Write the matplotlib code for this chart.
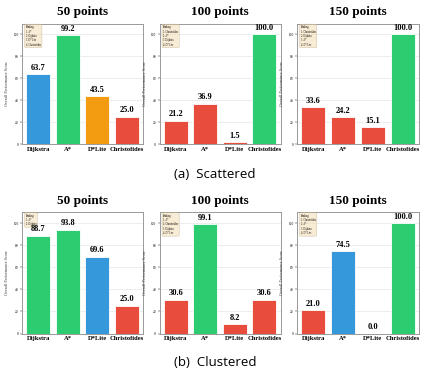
import matplotlib.pyplot as plt

algorithms = ['Dijkstra', 'A*', 'D*Lite', 'Christofides']
titles = ['50 points', '100 points', '150 points']

# scores
scattered_scores = [
    [63.7, 99.2, 43.5, 25.0],
    [21.2, 36.9, 1.5, 100.0],
    [33.6, 24.2, 15.1, 100.0],
]
clustered_scores = [
    [88.7, 93.8, 69.6, 25.0],
    [30.6, 99.1, 8.2, 30.6],
    [21.0, 74.5, 0.0, 100.0],
]

green, blue, orange, red = '#2ecc71', '#3498db', '#f39c12', '#e74c3c'
scattered_colors = [
    [blue, green, orange, red],
    [red, red, red, green],
    [red, red, red, green],
]
clustered_colors = [
    [green, green, blue, red],
    [red, green, red, red],
    [red, blue, red, green],
]

scattered_ranking = [
    ['A*', 'Dijkstra', 'D* Lite', 'Christofides'],
    ['Christofides', 'A*', 'Dijkstra', 'D* Lite'],
    ['Christofides', 'Dijkstra', 'A*', 'D* Lite'],
]
clustered_ranking = [
    ['A*', 'Dijkstra'],
    ['A*', 'Christofides', 'Dijkstra', 'D* Lite'],
    ['Christofides', 'A*', 'Dijkstra', 'D* Lite'],
]

W, H = 434, 372
serif = ['Liberation Serif', 'DejaVu Serif']
fig = plt.figure(figsize=(W / 100, H / 100), dpi=100)

# axes boxes in pixels: left, top, right, bottom
lefts = [22, 159.5, 297]
rights = [143, 280.5, 419]
rows = [(23.5, 144, scattered_scores, scattered_colors, scattered_ranking),
        (212, 333.5, clustered_scores, clustered_colors, clustered_ranking)]

for top, bottom, scores, colors, rankings in rows:
    for i in range(3):
        ax = fig.add_axes([lefts[i] / W, (H - bottom) / H,
                           (rights[i] - lefts[i]) / W, (bottom - top) / H])
        bars = ax.bar(algorithms, scores[i], color=colors[i], width=0.8,
                      edgecolor='white', linewidth=0.6, zorder=3)
        for b, v in zip(bars, scores[i]):
            ax.text(b.get_x() + b.get_width() / 2, v + 2.2, f'{v:.1f}',
                    ha='center', va='bottom', fontsize=6, fontweight='bold',
                    family=serif, zorder=6)
        ax.set_ylim(0, 110)
        ax.set_xlim(-0.55, 3.55)
        ax.set_yticks([0, 20, 40, 60, 80, 100])
        ax.grid(axis='y', color='#e6e6e6', linewidth=0.5, zorder=0)
        ax.tick_params(axis='y', labelsize=2.5, length=1.5, width=0.3, pad=1)
        ax.tick_params(axis='x', length=0, pad=2)
        for lab in ax.get_yticklabels():
            lab.set_family(serif)
        for lab in ax.get_xticklabels():
            lab.set_family(serif)
            lab.set_fontweight('bold')
            lab.set_fontsize(4.7)
        ax.set_ylabel('Overall Performance Score', fontsize=3, family=serif,
                      labelpad=3, color='#333333')
        for s in ax.spines.values():
            s.set_color('#999999')
            s.set_linewidth(0.7)
        ax.set_title(titles[i], fontsize=9.5, fontweight='bold', family=serif,
                     pad=6)
        rank_text = 'Ranking:\n' + '\n'.join(
            f'{k + 1}. {name}' for k, name in enumerate(rankings[i]))
        ax.text(0.03, 0.985, rank_text, transform=ax.transAxes, fontsize=1.8,
                family=serif, va='top', ha='left', linespacing=1.1, zorder=5,
                bbox=dict(boxstyle='round,pad=0.45', facecolor='#f5deb3',
                          edgecolor='#b0a080', linewidth=0.4, alpha=0.55))

cap_font = ['Open Sans', 'DejaVu Sans']
fig.text(215 / W, 1 - 175 / H, '(a)  Scattered', ha='center', va='center',
         fontsize=9.5, family=cap_font)
fig.text(215 / W, 1 - 362 / H, '(b)  Clustered', ha='center', va='center',
         fontsize=9.5, family=cap_font)

fig.savefig('out.png', dpi=100, facecolor='white')
